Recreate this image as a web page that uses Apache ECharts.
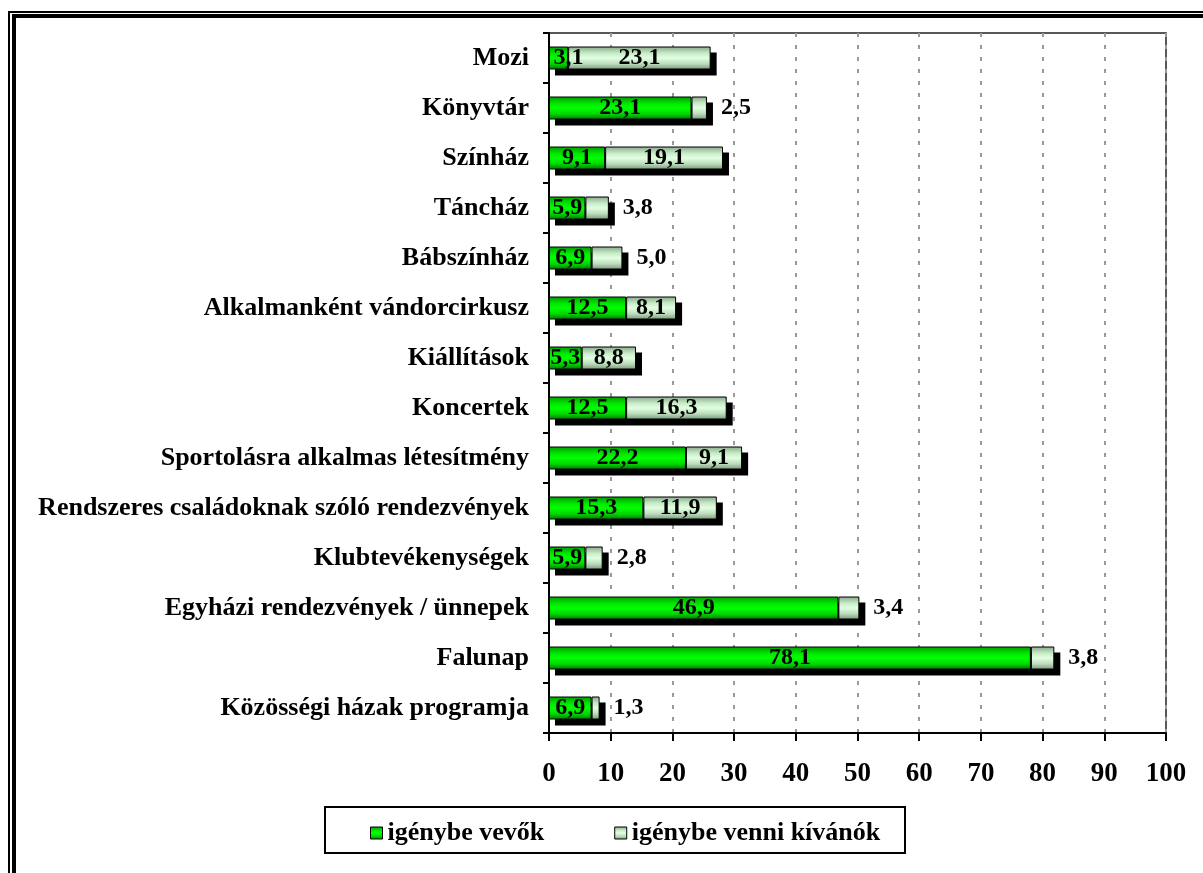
<!DOCTYPE html>
<html><head><meta charset="utf-8">
<script src="https://cdn.jsdelivr.net/npm/echarts@6/dist/echarts.min.js"></script>
<style>html,body{margin:0;padding:0;background:#fff}#c{width:1203px;height:873px}</style>
</head><body><div id="c"></div>
<script>
const categories = ['Mozi','Könyvtár','Színház','Táncház','Bábszínház','Alkalmanként vándorcirkusz','Kiállítások','Koncertek','Sportolásra alkalmas létesítmény','Rendszeres családoknak szóló rendezvények','Klubtevékenységek','Egyházi rendezvények / ünnepek','Falunap','Közösségi házak programja'];
const igenybeVevok = [3.1,23.1,9.1,5.9,6.9,12.5,5.3,12.5,22.2,15.3,5.9,46.9,78.1,6.9];
const igenybeVenniKivanok = [23.1,2.5,19.1,3.8,5.0,8.1,8.8,16.3,9.1,11.9,2.8,3.4,3.8,1.3];
const seriesNames = ['igénybe vevők','igénybe venni kívánók'];
const xTicks = [0,10,20,30,40,50,60,70,80,90,100];

const FONT = '"Liberation Serif","Times New Roman",serif';
const BAR_H = 23, SH = 6;
const fmt = v => v.toFixed(1).replace('.', ',');
const green = new echarts.graphic.LinearGradient(0,0,0,1,[
  {offset:0,color:'#009a00'},{offset:0.3,color:'#00e600'},{offset:0.5,color:'#00ff00'},{offset:0.75,color:'#00d800'},{offset:1,color:'#007a00'}]);
const light = new echarts.graphic.LinearGradient(0,0,0,1,[
  {offset:0,color:'#8aa88a'},{offset:0.3,color:'#c8ecc8'},{offset:0.5,color:'#e2ffe2'},{offset:0.75,color:'#bcdcbc'},{offset:1,color:'#7a987a'}]);
const labelStyle = {color:'#000',fontFamily:FONT,fontWeight:'bold',fontSize:24,formatter:p=>fmt(p.value)};

const shadowData = categories.map((c,i)=>[igenybeVevok[i]+igenybeVenniKivanok[i], i]);

const chart = echarts.init(document.getElementById('c'));
chart.setOption({
  animation:false,
  backgroundColor:'#fff',
  graphic:[
    {type:'rect',shape:{x:9,y:12,width:1400,height:1000},style:{fill:'none',stroke:'#000',lineWidth:2},z:100},
    {type:'rect',shape:{x:14,y:16,width:1400,height:1000},style:{fill:'none',stroke:'#000',lineWidth:4},z:100},
    {type:'rect',shape:{x:325,y:807,width:580,height:46},style:{fill:'none',stroke:'#000',lineWidth:2},z:100}
  ],
  grid:{left:549,top:33,right:37,bottom:140,show:true,borderColor:'#222',borderWidth:1.5,containLabel:false},
  legend:{
    data:seriesNames,left:365,top:815,itemGap:70,itemWidth:12,itemHeight:12,
    icon:'rect',
    textStyle:{fontFamily:FONT,fontWeight:'bold',fontSize:26,color:'#000'},
    itemStyle:{borderColor:'#000',borderWidth:1}
  },
  xAxis:{
    type:'value',min:0,max:100,interval:10,
    axisLine:{show:true,lineStyle:{color:'#000',width:2}},
    axisTick:{show:true,length:8,lineStyle:{color:'#000',width:2}},
    axisLabel:{margin:28,color:'#000',fontFamily:FONT,fontWeight:'bold',fontSize:27,formatter:v=>xTicks.includes(v)?String(v):''},
    splitLine:{show:true,lineStyle:{color:'#999',type:[4,8],width:2}}
  },
  yAxis:{
    type:'category',data:categories,inverse:true,
    axisLine:{show:true,lineStyle:{color:'#000',width:2}},
    axisTick:{show:true,length:6,lineStyle:{color:'#000',width:2}},
    axisLabel:{margin:20,color:'#000',fontFamily:FONT,fontWeight:'bold',fontSize:26}
  },
  series:[
    {type:'custom',name:'shadow',silent:true,z:1,
     data:shadowData,encode:{x:0,y:1},
     renderItem:(params,api)=>{
       const end = api.coord([api.value(0), api.value(1)]);
       const start = api.coord([0, api.value(1)]);
       return {type:'rect',shape:{x:start[0]+SH,y:end[1]-BAR_H/2+SH,width:end[0]-start[0],height:BAR_H},style:{fill:'#000'}};
     }},
    {name:seriesNames[0],type:'bar',stack:'a',barWidth:BAR_H,z:2,
     data:igenybeVevok.map(v=>({value:v,label:v<4?{offset:[10,0]}:{}})),
     itemStyle:{color:green,borderColor:'#000',borderWidth:1},
     label:Object.assign({show:true,position:'inside'},labelStyle)},
    {name:seriesNames[1],type:'bar',stack:'a',barWidth:BAR_H,z:2,
     data:igenybeVenniKivanok.map(v=>({value:v,label:v<8?{position:'right',distance:14}:{position:'inside'}})),
     itemStyle:{color:light,borderColor:'#000',borderWidth:1},
     label:Object.assign({show:true},labelStyle)}
  ]
});
</script></body></html>
